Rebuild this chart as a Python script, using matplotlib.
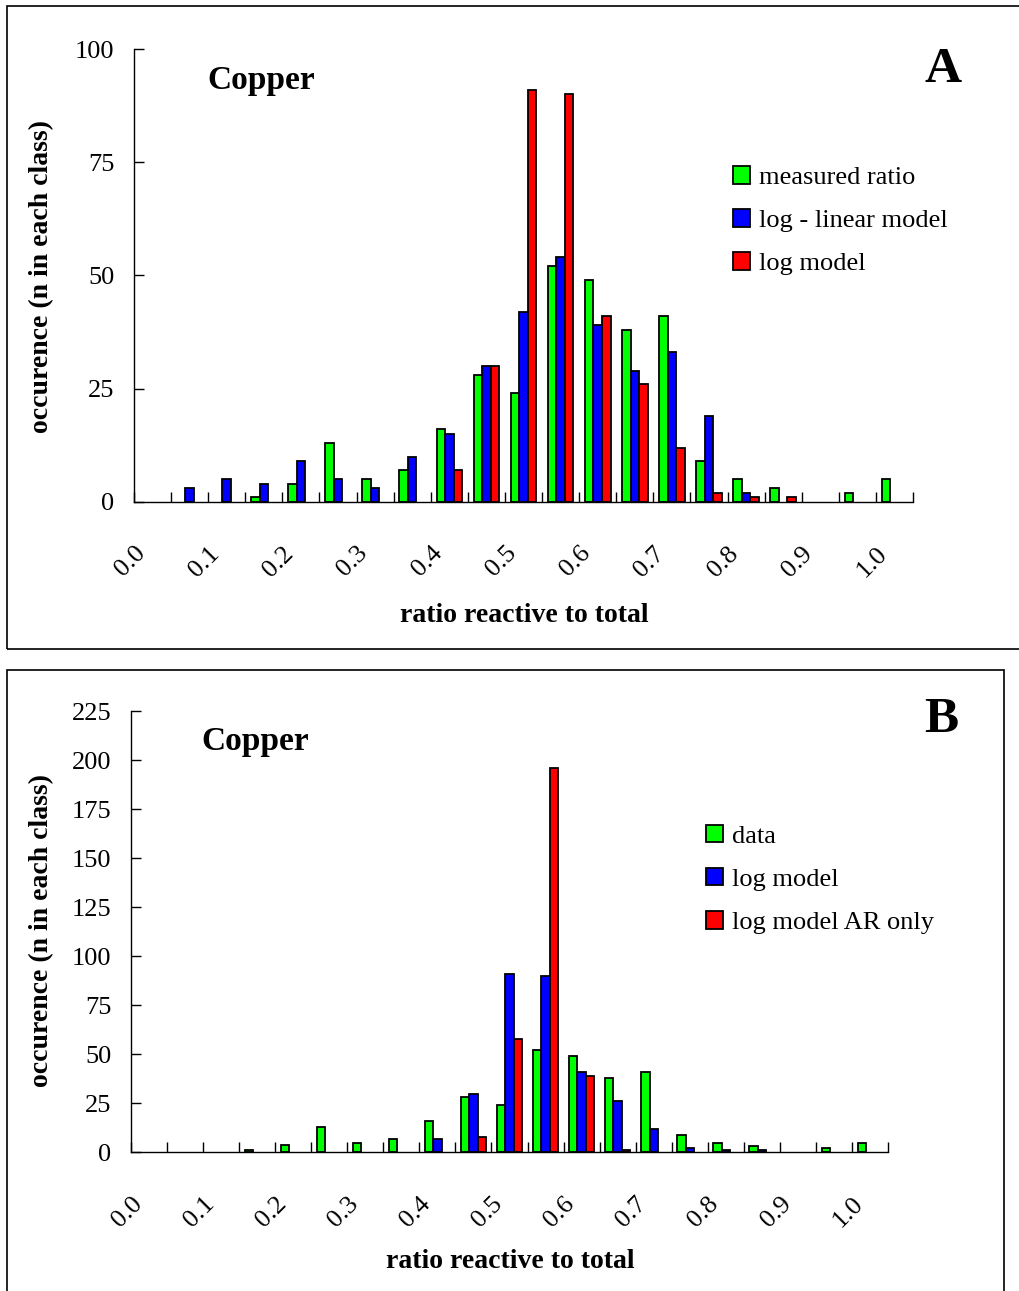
import numpy as np
import matplotlib
matplotlib.use("Agg")
import matplotlib.pyplot as plt
from matplotlib.patches import Rectangle

plt.rcParams["font.family"] = ["Liberation Serif", "DejaVu Serif"]

# ratio classes, 0.05 wide, from 0.00 up to 1.05
bin_width = 0.05
bin_left = np.arange(21) * bin_width
tick_values = [0.0, 0.1, 0.2, 0.3, 0.4, 0.5, 0.6, 0.7, 0.8, 0.9, 1.0]
tick_labels = ["0.0", "0.1", "0.2", "0.3", "0.4", "0.5", "0.6", "0.7", "0.8", "0.9", "1.0"]

# panel A
measured_ratio = [0, 0, 0, 1, 4, 13, 5, 7, 16, 28, 24, 52, 49, 38, 41, 9, 5, 3, 0, 2, 5]
log_linear_model = [0, 3, 5, 4, 9, 5, 3, 10, 15, 30, 42, 54, 39, 29, 33, 19, 2, 0, 0, 0, 0]
log_model = [0, 0, 0, 0, 0, 0, 0, 0, 7, 30, 91, 90, 41, 26, 12, 2, 1, 1, 0, 0, 0]

# panel B
data_b = measured_ratio
log_model_b = log_model
log_model_ar_only = [0, 0, 0, 0, 0, 0, 0, 0, 0, 8, 58, 196, 39, 1, 0, 0, 0, 0, 0, 0, 0]

GREEN, BLUE, RED = "#00ff00", "#0000ff", "#ff0000"


def draw_panel(ax, series, labels, ymax, ystep, leg_xy):
    centers = bin_left + bin_width / 2
    bw = 0.0115
    for k, (vals, col, lab) in enumerate(zip(series, (GREEN, BLUE, RED), labels)):
        vals = np.asarray(vals)
        keep = vals > 0  # empty classes get no bar
        ax.bar(centers[keep] + (k - 1) * bw, vals[keep], width=bw, color=col,
               edgecolor="black", linewidth=1.3, label=lab)

    ax.set_xlim(0, 1.05)
    ax.set_ylim(0, ymax)
    ax.set_yticks(np.arange(0, ymax + 1, ystep))
    ax.set_xticks(tick_values)
    ax.set_xticklabels(tick_labels, rotation=45, ha="right", va="top",
                       rotation_mode="anchor")
    ax.set_xticks(bin_left[1::2].tolist() + [1.05], minor=True)
    ax.tick_params(axis="both", which="both", direction="in", length=7,
                   width=1.0, labelsize=19)
    ax.tick_params(axis="x", pad=29)
    ax.tick_params(axis="y", pad=14)
    for s in ("top", "right"):
        ax.spines[s].set_visible(False)
    for s in ("left", "bottom"):
        ax.spines[s].set_linewidth(1.0)

    ax.legend(loc="upper left", bbox_to_anchor=leg_xy, frameon=False,
              fontsize=19, handlelength=0.65, handleheight=0.65,
              handletextpad=0.35, labelspacing=0.76, borderpad=0,
              borderaxespad=0)


fig = plt.figure(figsize=(10.20, 12.91), dpi=100)

# outer boxes around each panel
fig.add_artist(Rectangle((0.0069, 0.4973), 1.0, 0.4981, transform=fig.transFigure,
                         fill=False, edgecolor="black", linewidth=1.2))
fig.add_artist(Rectangle((0.0069, -0.01), 0.9775, 0.491, transform=fig.transFigure,
                         fill=False, edgecolor="black", linewidth=1.2))

ax_a = fig.add_axes([0.1314, 0.6112, 0.7637, 0.3508])
draw_panel(ax_a, (measured_ratio, log_linear_model, log_model),
           ("measured ratio", "log - linear model", "log model"),
           100, 25, (0.769, 0.742))

ax_b = fig.add_axes([0.1284, 0.1074, 0.7422, 0.3416])
draw_panel(ax_b, (data_b, log_model_b, log_model_ar_only),
           ("data", "log model", "log model AR only"),
           225, 25, (0.7596, 0.743))

fig.text(0.203, 0.9375, "Copper", fontsize=24, fontweight="bold", va="center")
fig.text(0.197, 0.4258, "Copper", fontsize=24, fontweight="bold", va="center")
fig.text(0.9245, 0.946, "A", fontsize=37, fontweight="bold", ha="center", va="center")
fig.text(0.9225, 0.4425, "B", fontsize=37, fontweight="bold", ha="center", va="center")

fig.text(0.5137, 0.5236, "ratio reactive to total", fontsize=20, fontweight="bold",
         ha="center", va="center")
fig.text(0.5, 0.0225, "ratio reactive to total", fontsize=20, fontweight="bold",
         ha="center", va="center")
fig.text(0.0412, 0.786, "occurence (n in each class)", fontsize=20, fontweight="bold",
         rotation=90, ha="center", va="center")
fig.text(0.0412, 0.2796, "occurence (n in each class)", fontsize=20, fontweight="bold",
         rotation=90, ha="center", va="center")

fig.savefig("out.png", dpi=100)
